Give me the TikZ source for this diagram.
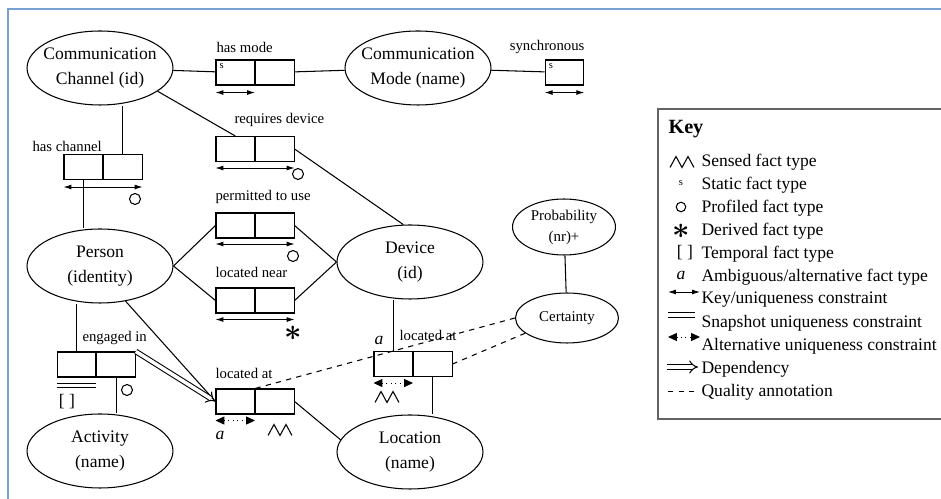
\documentclass[tikz,border=0pt]{standalone}
\usepackage{fontspec}
\setmainfont{Liberation Serif}
\usetikzlibrary{shapes.geometric,arrows.meta,positioning}

\definecolor{framecol}{RGB}{120,160,212}
\definecolor{keycol}{RGB}{100,100,100}

\tikzset{
	ent/.style={ellipse, draw, align=center, inner xsep=-0.15cm, inner ysep=0pt, minimum width=2.92cm, minimum height=1.48cm, font=\fontsize{10}{14}\selectfont},
	sment/.style={ellipse, draw, align=center, inner xsep=-0.1cm, inner ysep=0pt, minimum width=2.06cm, minimum height=1.12cm, font=\fontsize{8.5}{12}\selectfont},
	role/.style={rectangle, draw, minimum width=0.77cm, minimum height=0.5cm, inner sep=0pt},
	lbl/.style={font=\fontsize{8.4}{10}\selectfont, inner sep=0pt},
	stat/.style={font=\fontsize{6}{7}\selectfont, inner sep=2pt},
	uniq/.style={{Latex[length=4.5pt,width=2.8pt]}-{Latex[length=4.5pt,width=2.8pt]}, line width=0.5pt},
	altuniq/.style={{Triangle[length=5pt,width=4.5pt]}-{Triangle[length=5pt,width=4.5pt]}, dotted, line width=0.5pt},
	prof/.style={circle, draw, minimum size=0.22cm, inner sep=0pt},
	deriv/.style={font=\fontsize{16}{16}\selectfont\boldmath, inner sep=0pt},
	amb/.style={font=\fontsize{10}{12}\selectfont\itshape, inner sep=0pt},
	qual/.style={dashed},
	dep/.style={double, double distance=2pt, line width=0.6pt, -{Implies}},
	keytxt/.style={anchor=west, font=\fontsize{10}{12}\selectfont, inner sep=0pt},
	sensed/.pic={\draw[line width=0.6pt] (-12,5.5) -- (-6,-5.5) -- (0,5.5) -- (6,-5.5) -- (12,5.5);},
}

\begin{document}
\begin{tikzpicture}[x=0.02cm,y=-0.02cm,line width=0.6pt]
	\useasboundingbox (0,0) rectangle (941,499);
	\draw[framecol, line width=0.9pt] (8,499) -- (8,9) -- (941,9);

	\node[ent] (cc) at (100,68) {Communication\\Channel (id)};
	\node[ent] (mode) at (418,68) {Communication\\Mode (name)};
	\node[ent] (per) at (100,266) {Person\\(identity)};
	\node[ent] (dev) at (410,262) {Device\\(id)};
	\node[ent] (act) at (100,451) {Activity\\(name)};
	\node[ent] (loc) at (410,452) {Location\\(name)};
	\node[sment] (prob) at (564,227) {Probability\\(nr)+};
	\node[sment, minimum height=1cm] (cert) at (567,318) {Certainty};

	\node[role] (hm1) at (235.25,72.5) {};
	\node[role, right=0pt of hm1] (hm2) {};
	\node[role] (syn) at (564.5,72.5) {};
	\node[role] (hc1) at (83.25,167) {};
	\node[role, right=0pt of hc1] (hc2) {};
	\node[role] (rd1) at (235.25,149) {};
	\node[role, right=0pt of rd1] (rd2) {};
	\node[role] (pu1) at (235.25,225.5) {};
	\node[role, right=0pt of pu1] (pu2) {};
	\node[role] (ln1) at (235.25,300.5) {};
	\node[role, right=0pt of ln1] (ln2) {};
	\node[role] (ei1) at (76.5,364.5) {};
	\node[role, right=0pt of ei1] (ei2) {};
	\node[role] (la1) at (235.25,401.5) {};
	\node[role, right=0pt of la1] (la2) {};
	\node[role] (lu1) at (393.25,364) {};
	\node[role, right=0pt of lu1] (lu2) {};

	\node[lbl, anchor=west] (lhm) at (216,47) {has mode};
	\node[lbl, anchor=east] (lsyn) at (585,47) {synchronous};
	\node[lbl, anchor=west] (lhc) at (32,146) {has channel};
	\node[lbl, anchor=west] (lrd) at (234,120) {requires device};
	\node[lbl, anchor=west] (lpu) at (215,197) {permitted to use};
	\node[lbl, anchor=west] (lln) at (215,272) {located near};
	\node[lbl, anchor=west] (lei) at (82,338) {engaged in};
	\node[lbl, anchor=west] (lla) at (215,373) {located at};
	\node[lbl, anchor=west] (llu) at (399,335) {located at};

	\node[stat, anchor=north west] (shm) at (hm1.north west) {s};
	\node[stat, anchor=north west] (ssyn) at (syn.north west) {s};

	\draw (cc) -- (hm1);
	\draw (hm2) -- (mode);
	\draw (mode) -- (syn);
	\draw (hc2.north) -- (hc2.north |- cc.south);
	\draw (hc1.south) -- (hc1.south |- per.north);
	\draw (cc.-22) -- (rd1.north);
	\draw (rd2.east) -- (dev.100);
	\draw (per.east) -- (pu1.west);
	\draw (per.east) -- (ln1.west);
	\draw (pu2.east) -- (dev.west);
	\draw (ln2.east) -- (dev.west);
	\draw (ei1.north) -- (ei1.north |- per.south);
	\draw (ei2.south) -- (ei2.south |- act.north);
	\draw (per.-54) -- (la1.west);
	\draw[dep] (ei2.north east) -- (la1.west);
	\draw (la2.east) -- (loc.170);
	\draw (lu1.north) -- (lu1.north |- dev.south);
	\draw (lu2.south) -- (lu2.south |- loc.north);
	\draw (prob) -- (cert);
	\draw[qual] (cert.west) -- (la2.north west);
	\draw[qual] (cert.200) -- (lu2.east);

	\draw[uniq] ([yshift=-0.14cm]hm1.south west) -- ([yshift=-0.14cm]hm1.south east);
	\draw[uniq] ([yshift=-0.14cm]syn.south west) -- ([yshift=-0.14cm]syn.south east);
	\draw[uniq] ([yshift=-0.14cm]hc1.south west) -- ([yshift=-0.14cm]hc2.south east);
	\draw[uniq] ([yshift=-0.12cm]rd1.south west) -- ([yshift=-0.12cm]rd2.south east);
	\draw[uniq] ([yshift=-0.11cm]pu1.south west) -- ([yshift=-0.11cm]pu2.south east);
	\draw[uniq] ([yshift=-0.12cm]ln1.south west) -- ([yshift=-0.12cm]ln2.south east);
	\draw[line width=0.5pt] ([yshift=-0.12cm]ei1.south west) -- ([yshift=-0.12cm]ei1.south east);
	\draw[line width=0.5pt] ([yshift=-0.2cm]ei1.south west) -- ([yshift=-0.2cm]ei1.south east);
	\draw[altuniq] ([yshift=-0.12cm]la1.south west) -- ([yshift=-0.12cm]la1.south east);
	\draw[altuniq] ([yshift=-0.12cm]lu1.south west) -- ([yshift=-0.12cm]lu1.south east);

	\node[prof] (phc) at (135,199) {};
	\node[prof] (prd) at (298,174) {};
	\node[prof] (ppu) at (293,256) {};
	\node[prof] (pei) at (127,390) {};
	\node[deriv] (dln) at (293,333) {$\ast$};
	\node[lbl, font=\fontsize{10}{12}\selectfont] (tei) at (67,402) {[ ]};
	\node[amb] (ala) at (220,435) {a};
	\node[amb] (alu) at (379,340) {a};
	\pic at (280,430) {sensed};
	\pic at (387,397) {sensed};

	\draw[keycol, line width=1pt] (941,109) -- (658,109) -- (658,419) -- (941,419);
	\node[anchor=west, inner sep=0pt, font=\fontsize{11.5}{13}\selectfont\bfseries] (key) at (668,129) {Key};
	\pic at (682,162) {sensed};
	\node[stat] (ks) at (681,183) {s};
	\node[prof, minimum size=0.19cm] (kp) at (681,207) {};
	\node[deriv] (kd) at (681,231) {$\ast$};
	\node[lbl, font=\fontsize{10}{12}\selectfont] (kt) at (685,253) {[ ]};
	\node[amb] (ka) at (681,275) {a};
	\draw[uniq] (668,292) -- (700,292);
	\draw[line width=0.5pt] (668,312) -- (695,312);
	\draw[line width=0.5pt] (668,317) -- (695,317);
	\draw[altuniq] (668,337) -- (700,337);
	\coordinate (kds) at (667,367);
	\coordinate (kde) at (698,367);
	\draw[dep] (kds) -- (kde);
	\draw[qual, line width=0.5pt] (668,391) -- (697,391);
	\node[keytxt] (k1) at (701,162) {Sensed fact type};
	\node[keytxt] (k2) at (701,185) {Static fact type};
	\node[keytxt] (k3) at (701,208) {Profiled fact type};
	\node[keytxt] (k4) at (701,231) {Derived fact type};
	\node[keytxt] (k5) at (701,254) {Temporal fact type};
	\node[keytxt] (k6) at (701,277) {Ambiguous/alternative fact type};
	\node[keytxt] (k7) at (701,300) {Key/uniqueness constraint};
	\node[keytxt] (k8) at (701,323) {Snapshot uniqueness constraint};
	\node[keytxt] (k9) at (701,346) {Alternative uniqueness constraint};
	\node[keytxt] (k10) at (701,369) {Dependency};
	\node[keytxt] (k11) at (701,392) {Quality annotation};
\end{tikzpicture}
\end{document}
